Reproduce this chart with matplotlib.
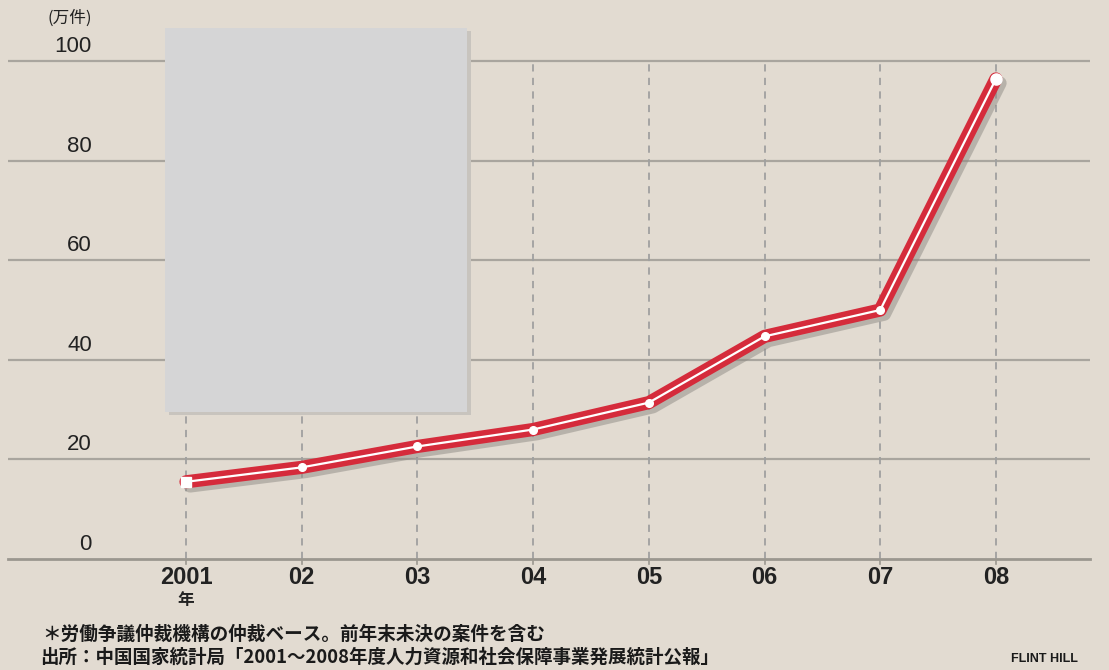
import matplotlib
matplotlib.use("Agg")
import matplotlib.pyplot as plt
import matplotlib.patheffects as pe
from matplotlib.patches import Rectangle

years = ["2001", "02", "03", "04", "05", "06", "07", "08"]
cases = [15.5, 18.4, 22.6, 26.0, 31.4, 44.7, 50.0, 96.4]
yticks = [0, 20, 40, 60, 80, 100]
unit_label = "(万件)"
note1 = "＊労働争議仲裁機構の仲裁ベース。前年末未決の案件を含む"
note2 = "出所：中国国家統計局「2001～2008年度人力資源和社会保障事業発展統計公報」"
credit = "FLINT HILL"

BG = "#e2dbd1"
GRID = "#a9a59e"
RED = "#d52b3b"
CJK = ["Noto Sans CJK JP", "DejaVu Sans"]
NUM = ["Liberation Sans Narrow", "Liberation Sans", "DejaVu Sans"]
REG = ["Liberation Sans", "DejaVu Sans"]

W, H = 1109, 670
fig = plt.figure(figsize=(W / 100, H / 100), dpi=100, facecolor=BG)

# pixel geometry
x0px, dxpx = 186.0, 115.7   # first year position, spacing
y0px, pxu = 559.0, 4.98     # zero line pixel, px per unit
left_px, right_px = 8.0, 1090.0
xl = ((left_px - x0px) / dxpx, (right_px - x0px) / dxpx)
yl = (0, y0px / pxu)
ax = fig.add_axes([left_px / W, (H - y0px) / H, (right_px - left_px) / W, y0px / H])
ax.set_xlim(*xl)
ax.set_ylim(*yl)
ax.set_facecolor(BG)
ax.axis("off")

xs = list(range(len(years)))

# horizontal gridlines
for v in yticks[1:]:
    ax.axhline(v, color=GRID, lw=1.6, zorder=1)
ax.axhline(0, color="#9b978f", lw=2.0, zorder=1, clip_on=False)

# vertical dashed lines
ax.vlines(xs, 0, 100, colors="#a0a0a0", linestyles=(0, (4, 3.5)), lw=1.3, zorder=1)

# tick marks below zero line
for x in xs:
    ax.plot([x, x], [0, -5 / pxu], color="#9b978f", lw=1.2, clip_on=False, zorder=1)

# gray box with shadow
bx0 = (165 - x0px) / dxpx
bx1 = (467 - x0px) / dxpx
by0 = (y0px - 412) / pxu
by1 = (y0px - 28) / pxu
ax.add_patch(Rectangle((bx0 + 4 / dxpx, by0 - 3 / pxu), bx1 - bx0, by1 - by0,
                       facecolor="#c8c4be", edgecolor="none", zorder=2, clip_on=False))
ax.add_patch(Rectangle((bx0, by0), bx1 - bx0, by1 - by0,
                       facecolor="#d5d5d6", edgecolor="none", zorder=3, clip_on=False))

# line with shadow
ax.plot(xs, cases, color=RED, lw=9.5, solid_joinstyle="round", solid_capstyle="round",
        zorder=5, clip_on=False,
        path_effects=[pe.SimpleLineShadow(offset=(3, -3), shadow_color="#8e8a84", alpha=0.5),
                      pe.Normal()])
ax.plot(xs, cases, color="white", lw=1.6, zorder=6, clip_on=False)
ax.plot(xs[1:-1], cases[1:-1], "o", color="white", ms=5.5, mec="white", zorder=7)
ax.plot(xs[0], cases[0], "s", color="white", ms=7, zorder=7)
ax.plot(xs[-1], cases[-1], "o", color="white", ms=8, zorder=7, clip_on=False)

# y labels
for v in yticks:
    ax.text((92 - x0px) / dxpx, v + 14.5 / pxu, f"{v}", ha="right", va="center",
            fontsize=16, color="#222222", family=REG, zorder=8)
fig.text(70 / W, 1 - 18 / H, unit_label, ha="center", va="center", fontsize=12,
         color="#222222", family=CJK)

# x labels
for x, lab in zip(xs, years):
    ax.text(x, -(577 - y0px) / pxu, lab, ha="center", va="center", fontsize=17,
            fontweight="bold", color="#222222", family=NUM)
ax.text(0, -(600 - y0px) / pxu, "年", ha="center", va="center", fontsize=12,
        fontweight="bold", color="#222222", family=CJK)

# footnotes
fig.text(42 / W, 1 - 634 / H, note1, ha="left", va="center", fontsize=13.4,
         fontweight="bold", color="#1a1a1a", family=CJK)
fig.text(40 / W, 1 - 657 / H, note2, ha="left", va="center", fontsize=13.3,
         fontweight="bold", color="#1a1a1a", family=CJK)
fig.text(1078 / W, 1 - 659 / H, credit, ha="right", va="center", fontsize=9,
         fontweight="bold", color="#1a1a1a", family=NUM)

fig.savefig("out.png", dpi=100, facecolor=BG)
